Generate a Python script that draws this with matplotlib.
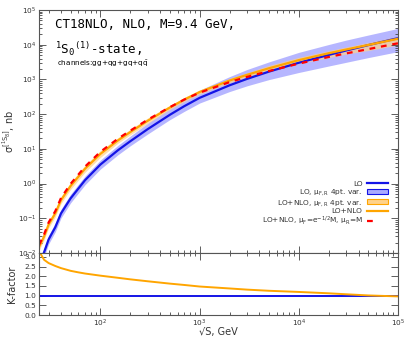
import numpy as np
import matplotlib
matplotlib.use("Agg")
from matplotlib import pyplot as plt
from matplotlib.patches import Patch
from matplotlib.lines import Line2D

#---------------------------------------------
# data (cross sections in decades, log10 of nb)
sqrt_s = [24, 27, 30, 35, 40, 50, 60, 70, 100, 150, 200, 300, 500, 700,
          1e3, 2e3, 3e3, 5e3, 1e4, 2e4, 3e4, 5e4, 1e5]

lo_log = [-2.35, -1.98, -1.61, -1.26, -0.86, -0.425, -0.14, 0.10, 0.55, 0.96, 1.22, 1.57,
          1.98, 2.23, 2.47, 2.83, 3.015, 3.225, 3.48, 3.706, 3.833, 3.988, 4.19]
lo_up_log = [-2.23, -1.86, -1.49, -1.14, -0.74, -0.305, -0.02, 0.22, 0.68, 1.10, 1.37, 1.74,
             2.17, 2.43, 2.69, 3.08, 3.285, 3.505, 3.78, 4.006, 4.133, 4.278, 4.47]
lo_dn_log = [-2.48, -2.11, -1.74, -1.39, -0.99, -0.555, -0.27, -0.03, 0.42, 0.83, 1.09, 1.43,
             1.84, 2.08, 2.32, 2.65, 2.815, 2.995, 3.2, 3.386, 3.493, 3.628, 3.80]

nlo_log = [-1.83, -1.525, -1.18, -0.857, -0.476, -0.067, 0.202, 0.43, 0.857, 1.243, 1.485, 1.811,
           2.19, 2.42, 2.637, 2.967, 3.132, 3.322, 3.556, 3.755, 3.862, 3.992, 4.172]
nlo_up_log = [-1.73, -1.425, -1.08, -0.757, -0.376, 0.033, 0.302, 0.53, 0.957, 1.323, 1.565, 1.891,
              2.25, 2.48, 2.697, 3.027, 3.192, 3.402, 3.636, 3.825, 3.932, 4.062, 4.242]
nlo_dn_log = [-1.93, -1.625, -1.28, -0.957, -0.576, -0.167, 0.102, 0.33, 0.757, 1.163, 1.405, 1.731,
              2.13, 2.36, 2.577, 2.907, 3.072, 3.222, 3.456, 3.625, 3.732, 3.832, 3.992]

nlo_mu_log = [-1.77, -1.465, -1.12, -0.797, -0.416, -0.007, 0.262, 0.49, 0.917, 1.293, 1.525, 1.841,
              2.20, 2.42, 2.619, 2.922, 3.072, 3.242, 3.456, 3.647, 3.749, 3.872, 4.042]

kfac = [3.3, 2.85, 2.68, 2.53, 2.42, 2.28, 2.2, 2.14, 2.03, 1.92, 1.84, 1.74,
        1.62, 1.55, 1.47, 1.37, 1.31, 1.25, 1.19, 1.12, 1.07, 1.01, 0.96]
k_lo = [1.0] * len(sqrt_s)

#---------------------------------------------
blue = '#1414e6'
blue_band = '#aaaaff'
orange = '#ffa500'
orange_band = '#ffd28a'
red = '#ff0000'
tcol = '#333333'

plt.rcParams['mathtext.default'] = 'regular'

def dec(v):
    return 10.0 ** np.array(v)

fig = plt.figure(figsize=(4.05, 3.4), dpi=100)
ax = fig.add_axes([39/405, 1-253/340, (398-39)/405, (253-10)/340])
axk = fig.add_axes([39/405, 1-315/340, (398-39)/405, (315-253)/340], sharex=ax)

ax.fill_between(sqrt_s, dec(lo_dn_log), dec(lo_up_log), color=blue_band, alpha=0.85, lw=0)
ax.fill_between(sqrt_s, dec(nlo_dn_log), dec(nlo_up_log), color=orange_band, alpha=0.7, lw=0)
ax.plot(sqrt_s, dec(lo_log), color=blue, lw=1.6)
ax.plot(sqrt_s, dec(nlo_log), color=orange, lw=1.6)
ax.plot(sqrt_s, dec(nlo_mu_log), color=red, lw=1.6, ls=(0, (2.6, 2.6)))

ax.set_xscale('log')
ax.set_yscale('log')
ax.set_xlim(24, 1e5)
ax.set_ylim(1e-2, 1e5)

axk.plot(sqrt_s, k_lo, color=blue, lw=1.4)
axk.plot(sqrt_s, kfac, color=orange, lw=1.4)
axk.set_ylim(0, 3.2)
axk.set_yticks([0, 0.5, 1.0, 1.5, 2.0, 2.5, 3.0])
axk.set_yticklabels(['0.0', '0.5', '1.0', '1.5', '2.0', '2.5', '3.0'])

for a in (ax, axk):
    a.tick_params(which='both', direction='in', top=True, right=True, pad=2,
                  labelsize=5.3, labelcolor=tcol, color='#444444', width=0.6)
    a.tick_params(which='major', length=5)
    a.tick_params(which='minor', length=2.5)
    for s in a.spines.values():
        s.set_color('#555555')
        s.set_linewidth(0.8)
ax.tick_params(labelbottom=False)
ax.yaxis.set_minor_locator(matplotlib.ticker.LogLocator(base=10, subs=np.arange(2, 10), numticks=20))
ax.yaxis.set_minor_formatter(matplotlib.ticker.NullFormatter())

ax.set_ylabel(r'$\sigma^{[^1S_8]}$, nb', fontsize=7, color=tcol)
axk.set_ylabel('K-factor', fontsize=7, color=tcol)
axk.set_xlabel('\u221aS, GeV', fontsize=7, color=tcol)
ax.yaxis.set_label_coords(-0.06, 0.5)
axk.yaxis.set_label_coords(-0.06, 0.5)
axk.xaxis.set_label_coords(0.5, -0.2)

mono = 'DejaVu Sans Mono'
ax.text(0.045, 0.94, 'CT18NLO, NLO, M=9.4 GeV,', transform=ax.transAxes,
        fontsize=9, family=mono, va='center', ha='left')
ax.text(0.045, 0.838, r'$^{1}$S$_{0}$$^{(1)}$-state,', transform=ax.transAxes,
        fontsize=9, family=mono, va='center', ha='left')
ax.text(0.05, 0.78, r'channels:gg+qg+gq+q$\bar{q}$', transform=ax.transAxes,
        fontsize=5.2, va='center', ha='left')

handles = [
    Line2D([], [], color=blue, lw=1.6),
    Patch(facecolor=blue_band, edgecolor=blue, lw=0.8),
    Patch(facecolor=orange_band, edgecolor=orange, lw=0.8),
    Line2D([], [], color=orange, lw=1.6),
    Line2D([], [], color=red, lw=1.6, ls=(0, (2.6, 7))),
]
labels = ['LO', r'LO, $\mu_{F,R}$ 4pt. var.', r'LO+NLO, $\mu_{F,R}$ 4pt. var.',
          'LO+NLO', r'LO+NLO, $\mu_F$=e$^{-1/2}$M, $\mu_R$=M']
leg = ax.legend(handles, labels, loc='lower right', bbox_to_anchor=(0.972, 0.105),
                frameon=False, fontsize=5.3, markerfirst=False, handlelength=2.85,
                labelspacing=0.08, borderpad=0, borderaxespad=0, handletextpad=0.6)
for t in leg.get_texts():
    t.set_color(tcol)

plt.savefig('out.png', dpi=100)
